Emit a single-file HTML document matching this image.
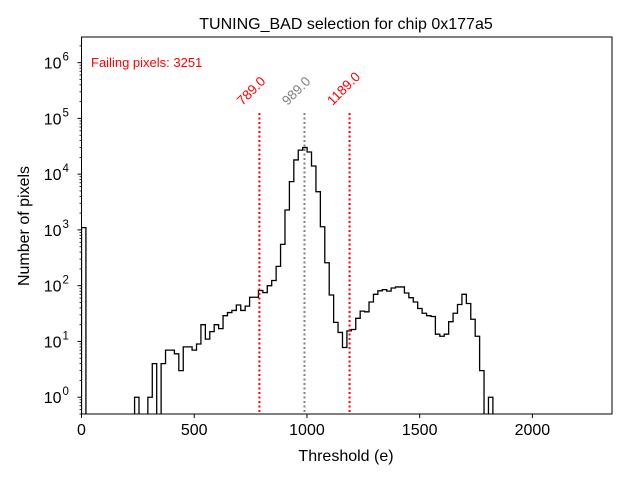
<!DOCTYPE html>
<html><head><meta charset="utf-8"><style>
body{margin:0;background:#fff;}
svg{display:block;font-family:"Liberation Sans","DejaVu Sans",sans-serif;}
</style></head><body>
<svg id="chart" width="640" height="480" viewBox="0 0 640 480" xmlns="http://www.w3.org/2000/svg">
<rect x="0" y="0" width="640" height="480" fill="#fff"/>
<text x="346" y="29" font-size="16" text-anchor="middle">TUNING_BAD selection for chip 0x177a5</text>
<g id="marks"></g>
<g id="axes"></g>
<text x="91" y="67" font-size="13" fill="#ff0000">Failing pixels: 3251</text>
<text x="346" y="461" font-size="16" text-anchor="middle">Threshold (e)</text>
<text transform="translate(29,226) rotate(-90)" font-size="16" text-anchor="middle">Number of pixels</text>
</svg>
<script>
const binStart = 0;
const binWidth = 19.62;
const counts = [1100,0,0,0,0,0,0,0,0,0,0,0,1,0,0,1,4,0,4,7,7,6,3,8,8,7,9,20,11,15,20,17,29,33,36,45,36,43,62,62,82,75,100,124,222,550,2280,7340,18000,27000,30000,25000,14000,4850,1140,258,68,22,14.5,7.8,15.5,16.4,26,35,34,51,70,81,85,80,91,95,95,74,61,51,39,32,29,28,13.5,12.4,13.5,22.6,32,46,70,48,25,12.4,3,0,1];
const xTicks = [0,500,1000,1500,2000];
const yTickExps = [0,1,2,3,4,5,6];
const vLines = [789.0, 989.0, 1189.0];
const vLineLabels = ["789.0","989.0","1189.0"];
const vLineColors = ["#ff0000","#808080","#ff0000"];

const L=81.5,R=612,T=37,B=414;
const xmin=0,xmax=2353;
const ymin=Math.log10(0.5),ymax=6.46;
const X=v=>L+(v-xmin)/(xmax-xmin)*(R-L);
const Y=v=>{ if(v<=0) return B+2; const y=B-(Math.log10(v)-ymin)/(ymax-ymin)*(B-T); return Math.min(y,B+2);};
const NS="http://www.w3.org/2000/svg";
const marks=document.getElementById('marks');
const axes=document.getElementById('axes');
function mk(tag,attrs,parent){const e=document.createElementNS(NS,tag);for(const k in attrs)e.setAttribute(k,attrs[k]);parent.appendChild(e);return e;}

const defs=mk('defs',{},marks);
const cp=mk('clipPath',{id:'clip'},defs);
mk('rect',{x:L,y:T,width:R-L,height:B-T},cp);
const g=mk('g',{'clip-path':'url(#clip)'},marks);

let d='M'+X(binStart)+','+(B+2);
counts.forEach((c,i)=>{const x0=X(binStart+i*binWidth),x1=X(binStart+(i+1)*binWidth),y=Y(c);d+=' L'+x0+','+y+' L'+x1+','+y;});
d+=' L'+X(binStart+counts.length*binWidth)+','+(B+2);
const hist=mk('path',{d:d,fill:'none',stroke:'#000','stroke-width':1.3,'stroke-linejoin':'miter'},g);



vLines.forEach((v,i)=>{
  const ln=mk('line',{x1:X(v),x2:X(v),y1:113,y2:B,stroke:vLineColors[i],'stroke-width':2,'stroke-dasharray':'2,2.5'},g);
  
  
  const t=mk('text',{transform:'translate('+(X(v)-17)+',106) rotate(-45)','font-size':13.5,fill:vLineColors[i]},marks);
  t.textContent=vLineLabels[i];
  
  
});

const fr=mk('rect',{x:L,y:T,width:R-L,height:B-T,fill:'none',stroke:'#000','stroke-width':1},axes);



xTicks.forEach(v=>{
  const x=X(v);
  mk('line',{x1:x,x2:x,y1:B,y2:B+4,stroke:'#000','stroke-width':1},axes);
  const t=mk('text',{x:x,y:B+21,'font-size':16,'text-anchor':'middle'},axes);
  t.textContent=v;
  
  
});
yTickExps.forEach(e=>{
  const y=Y(Math.pow(10,e));
  mk('line',{x1:L-4,x2:L,y1:y,y2:y,stroke:'#000','stroke-width':1},axes);
  const t=mk('text',{x:L-20,y:y+6,'font-size':16,'text-anchor':'end'},axes);
  t.textContent='10';
  
  
  const s=mk('text',{x:L-19,y:y-2,'font-size':11.5,'text-anchor':'start'},axes);
  s.textContent=e;
  for(let m=2;m<=9;m++){
    const v=m*Math.pow(10,e-1);
    const ym=Y(v);
    if(ym<=B&&ym>=T) mk('line',{x1:L-2,x2:L,y1:ym,y2:ym,stroke:'#000','stroke-width':0.8},axes);
  }
});
for(let m=2;m<=9;m++){const ym=Y(m*1e6); if(ym>=T) mk('line',{x1:L-2,x2:L,y1:ym,y2:ym,stroke:'#000','stroke-width':0.8},axes);}
</script>
</body></html>
